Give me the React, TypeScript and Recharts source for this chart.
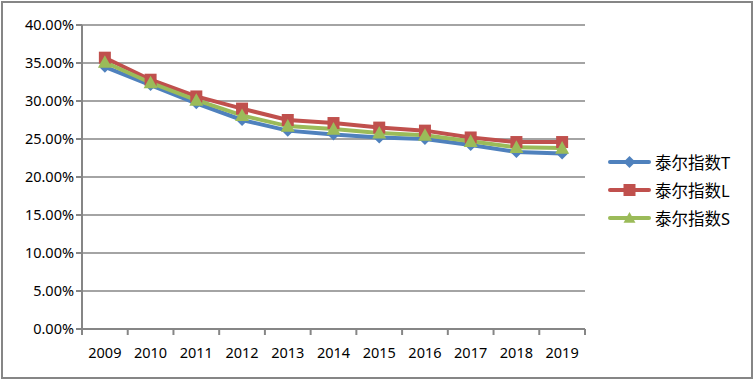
import { CartesianGrid, Line, LineChart, XAxis, YAxis } from "recharts"

const years = ["2009", "2010", "2011", "2012", "2013", "2014", "2015", "2016", "2017", "2018", "2019"]
const theilT = [0.345, 0.321, 0.297, 0.275, 0.261, 0.256, 0.252, 0.25, 0.242, 0.233, 0.231]
const theilL = [0.357, 0.328, 0.306, 0.29, 0.275, 0.271, 0.265, 0.261, 0.252, 0.246, 0.246]
const theilS = [0.351, 0.324, 0.301, 0.281, 0.267, 0.263, 0.258, 0.255, 0.247, 0.239, 0.238]
const yTicks = [0, 0.05, 0.1, 0.15, 0.2, 0.25, 0.3, 0.35, 0.4]

const data = years.map((year, i) => ({
  year,
  T: theilT[i],
  L: theilL[i],
  S: theilS[i],
}))

const BLUE = "#4F81BD"
const RED = "#C0504D"
const GREEN = "#9BBB59"
const GRID = "#868686"
const FONT = "'Noto Sans', 'Noto Sans CJK SC', sans-serif"

const PLOT_LEFT = 82
const PLOT_RIGHT = 585
const PLOT_BOTTOM = 329
const BAND = (PLOT_RIGHT - PLOT_LEFT) / years.length

function Diamond({ cx, cy, size = 6, fill }: any) {
  if (cx == null || cy == null) return null
  return (
    <polygon
      points={`${cx},${cy - size} ${cx + size},${cy} ${cx},${cy + size} ${cx - size},${cy}`}
      fill={fill}
    />
  )
}

function Square({ cx, cy, size = 6, fill }: any) {
  if (cx == null || cy == null) return null
  return <rect x={cx - size} y={cy - size} width={size * 2} height={size * 2} fill={fill} />
}

function Triangle({ cx, cy, size = 7, fill }: any) {
  if (cx == null || cy == null) return null
  return (
    <polygon
      points={`${cx},${cy - size} ${cx + size},${cy + size * 0.8} ${cx - size},${cy + size * 0.8}`}
      fill={fill}
    />
  )
}

function YearTick({ x, payload, index }: any) {
  const last = index === years.length - 1
  return (
    <g>
      <line x1={x - BAND / 2} y1={PLOT_BOTTOM} x2={x - BAND / 2} y2={PLOT_BOTTOM + 6} stroke={GRID} strokeWidth={2} />
      {last && (
        <line x1={x + BAND / 2} y1={PLOT_BOTTOM} x2={x + BAND / 2} y2={PLOT_BOTTOM + 6} stroke={GRID} strokeWidth={2} />
      )}
      <text x={x} y={PLOT_BOTTOM + 29} textAnchor="middle" fill="#000" fontSize={14.5} fontFamily={FONT}>
        {payload.value}
      </text>
    </g>
  )
}

const legendItems = [
  { name: "泰尔指数T", color: BLUE, Marker: Diamond },
  { name: "泰尔指数L", color: RED, Marker: Square },
  { name: "泰尔指数S", color: GREEN, Marker: Triangle },
]

function ThielLegend() {
  return (
    <div style={{ position: "absolute", left: 608, top: 148, fontFamily: FONT, fontSize: 16.5 }}>
      {legendItems.map(({ name, color, Marker }) => (
        <div key={name} style={{ display: "flex", alignItems: "center", height: 28 }}>
          <svg width={44} height={20}>
            <line x1={2} y1={10} x2={41} y2={10} stroke={color} strokeWidth={4} strokeLinecap="round" />
            <Marker cx={21.5} cy={10} size={6} fill={color} />
          </svg>
          <span style={{ marginLeft: 3, color: "#000" }}>{name}</span>
        </div>
      ))}
    </div>
  )
}

export default function App() {
  return (
    <div style={{ position: "absolute", left: 0, top: 0, width: 754, height: 380, background: "#fff" }}>
      <div
        style={{
          position: "absolute",
          left: 1,
          top: 1,
          width: 752,
          height: 378,
          border: `2px solid ${GRID}`,
          boxSizing: "border-box",
        }}
      />
      <LineChart
        width={754}
        height={380}
        data={data}
        margin={{ top: 25, right: 754 - PLOT_RIGHT, left: 0, bottom: 0 }}
      >
        <CartesianGrid vertical={false} stroke={GRID} strokeWidth={1.5} />
        <XAxis
          dataKey="year"
          height={380 - PLOT_BOTTOM}
          axisLine={{ stroke: GRID, strokeWidth: 2 }}
          tickLine={false}
          tick={<YearTick />}
          interval={0}
          padding={{ left: BAND / 2, right: BAND / 2 }}
        />
        <YAxis
          width={PLOT_LEFT}
          domain={[0, 0.4]}
          ticks={yTicks}
          interval={0}
          tickFormatter={(v: number) => `${(v * 100).toFixed(2)}%`}
          axisLine={{ stroke: GRID, strokeWidth: 2 }}
          tickLine={{ stroke: GRID, strokeWidth: 2 }}
          tickSize={6}
          tickMargin={2}
          tick={{ fill: "#000", fontSize: 14.5, fontFamily: FONT }}
        />
        <Line
          dataKey="T"
          name="泰尔指数T"
          stroke={BLUE}
          strokeWidth={4}
          dot={<Diamond size={6} fill={BLUE} />}
          activeDot={false}
          isAnimationActive={false}
        />
        <Line
          dataKey="L"
          name="泰尔指数L"
          stroke={RED}
          strokeWidth={4}
          dot={<Square size={6} fill={RED} />}
          activeDot={false}
          isAnimationActive={false}
        />
        <Line
          dataKey="S"
          name="泰尔指数S"
          stroke={GREEN}
          strokeWidth={4}
          dot={<Triangle size={7} fill={GREEN} />}
          activeDot={false}
          isAnimationActive={false}
        />
      </LineChart>
      <ThielLegend />
    </div>
  )
}
